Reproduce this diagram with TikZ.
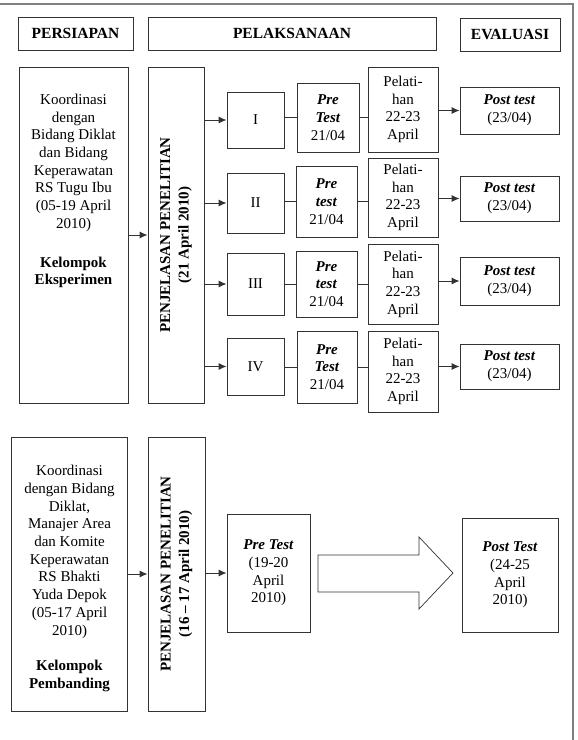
\documentclass[tikz,border=0pt]{standalone}
\usepackage{fontspec}
\setmainfont{Liberation Serif}
\usetikzlibrary{arrows.meta}

\begin{document}
\begin{tikzpicture}[x=1pt,y=-1pt,
  kotak/.style={draw=black!80, line width=0.9pt, inner sep=0pt, align=center, font=\fontsize{15}{17.7}\selectfont},
  judul/.style={kotak, font=\fontsize{15.5}{18}\selectfont\bfseries},
  teks/.style={align=center, inner sep=0pt, font=\fontsize{15}{17.7}\selectfont},
  tegak/.style={teks, rotate=90, font=\fontsize{15}{18.5}\selectfont\bfseries},
  garis/.style={draw=black!80, line width=0.9pt},
  panah/.style={garis, -{Latex[length=8pt,width=7pt]}}]

\useasboundingbox (0,0) rectangle (578,740);
\draw[gray, line width=1.3pt] (0,4) -- (573,4) -- (573,740);

% judul
\node[judul, minimum width=115pt, minimum height=33pt] (persiapan) at (75.5,33.5) {PERSIAPAN};
\node[judul, minimum width=288pt, minimum height=33pt] (pelaksanaan) at (292,33.5) {PELAKSANAAN};
\node[judul, minimum width=100pt, minimum height=33pt] (evaluasi) at (510,34.5) {EVALUASI};

% kelompok eksperimen
\node[kotak, minimum width=109pt, minimum height=336pt] (big1) at (73.5,235) {};
\node[teks] (big1txt) at (73.5,191) {Koordinasi\\dengan\\Bidang Diklat\\dan Bidang\\Keperawatan\\RS Tugu Ibu\\(05-19 April\\2010)\\[21pt]
  \textbf{Kelompok}\\\textbf{Eksperimen}};
\node[kotak, minimum width=56pt, minimum height=336pt] (pen1) at (176,235) {};
\node[tegak] (pen1txt) at (pen1) {PENJELASAN PENELITIAN\\(21 April 2010)};

\node[kotak, minimum width=57pt, minimum height=56pt] (r1) at (255.5,120) {I};
\node[kotak, minimum width=57pt, minimum height=60pt] (r2) at (255.5,203) {II};
\node[kotak, minimum width=57pt, minimum height=62pt] (r3) at (255.5,284) {III};
\node[kotak, minimum width=57pt, minimum height=57pt] (r4) at (255.5,366.5) {IV};

\node[kotak, minimum width=62pt, minimum height=69pt] (pre1) at (328,117.5) {\textbf{\textit{Pre}}\\\textbf{\textit{Test}}\\21/04};
\node[kotak, minimum width=61pt, minimum height=71pt] (pre2) at (326.5,201.5) {\textbf{\textit{Pre}}\\\textbf{\textit{test}}\\21/04};
\node[kotak, minimum width=61pt, minimum height=66pt] (pre3) at (326.5,284) {\textbf{\textit{Pre}}\\\textbf{\textit{test}}\\21/04};
\node[kotak, minimum width=60pt, minimum height=72pt] (pre4) at (327,367) {\textbf{\textit{Pre}}\\\textbf{\textit{Test}}\\21/04};

\node[kotak, minimum width=70pt, minimum height=85pt] (pel1) at (403,109.5) {Pelati-\\han\\22-23\\April};
\node[kotak, minimum width=70pt, minimum height=79pt] (pel2) at (403,197.5) {Pelati-\\han\\22-23\\April};
\node[kotak, minimum width=70pt, minimum height=80pt] (pel3) at (403,284) {Pelati-\\han\\22-23\\April};
\node[kotak, minimum width=70pt, minimum height=81pt] (pel4) at (403,371.5) {Pelati-\\han\\22-23\\April};

\node[kotak, minimum width=99pt, minimum height=47pt] (post1) at (509.5,110.5) {\textbf{\textit{Post test}}\\(23/04)};
\node[kotak, minimum width=99pt, minimum height=45pt] (post2) at (509.5,198.5) {\textbf{\textit{Post test}}\\(23/04)};
\node[kotak, minimum width=99pt, minimum height=48pt] (post3) at (509.5,281) {\textbf{\textit{Post test}}\\(23/04)};
\node[kotak, minimum width=99pt, minimum height=45pt] (post4) at (509.5,366.5) {\textbf{\textit{Post test}}\\(23/04)};

\draw[panah] (big1) -- (pen1);
\draw[panah] (pen1.east |- r1.west) -- (r1.west);
\draw[panah] (pen1.east |- r2.west) -- (r2.west);
\draw[panah] (pen1.east |- r3.west) -- (r3.west);
\draw[panah] (pen1.east |- r4.west) -- (r4.west);

\draw[garis] (r1.east |- pre1) -- (pre1.west);
\draw[garis] (r2.east |- pre2) -- (pre2.west);
\draw[garis] (r3.east |- pre3) -- (pre3.west);
\draw[garis] (r4.east |- pre4) -- (pre4.west);

\draw[garis] (pre1.east) -- (pre1.east -| pel1.west);
\draw[garis] (pre2.east) -- (pre2.east -| pel2.west);
\draw[garis] (pre3.east) -- (pre3.east -| pel3.west);
\draw[garis] (pre4.east) -- (pre4.east -| pel4.west);

\draw[panah] (pel1.east |- post1) -- (post1.west);
\draw[panah] (pel2.east |- post2) -- (post2.west);
\draw[panah] (pel3.east |- post3) -- (post3.west);
\draw[panah] (pel4.east |- post4) -- (post4.west);

% kelompok pembanding
\node[kotak, minimum width=116pt, minimum height=274pt] (big2) at (69,574) {};
\node[teks] (big2txt) at (69.5,578.5) {Koordinasi\\dengan Bidang\\Diklat,\\Manajer Area\\dan Komite\\Keperawatan\\RS Bhakti\\Yuda Depok\\(05-17 April\\2010)\\[18pt]
  \textbf{Kelompok}\\\textbf{Pembanding}};
\node[kotak, minimum width=57pt, minimum height=274pt] (pen2) at (176.5,574) {};
\node[tegak] (pen2txt) at (pen2) {PENJELASAN PENELITIAN\\(16 -- 17 April 2010)};

\node[kotak, minimum width=83pt, minimum height=118pt] (pre5) at (268.5,573) {\textbf{\textit{Pre Test}}\\(19-20\\April\\2010)};
\node[kotak, minimum width=96pt, minimum height=114pt] (post5) at (510,575) {\textbf{\textit{Post Test}}\\(24-25\\April\\2010)};

\draw[panah] (big2) -- (pen2);
\draw[panah] (pen2.east |- pre5) -- (pre5.west);
\draw[garis, line width=0.7pt] (318,555) -- (419,555) -- (419,537) -- (453,573) -- (419,609) -- (419,592) -- (318,592) -- cycle;

\end{tikzpicture}
\end{document}
